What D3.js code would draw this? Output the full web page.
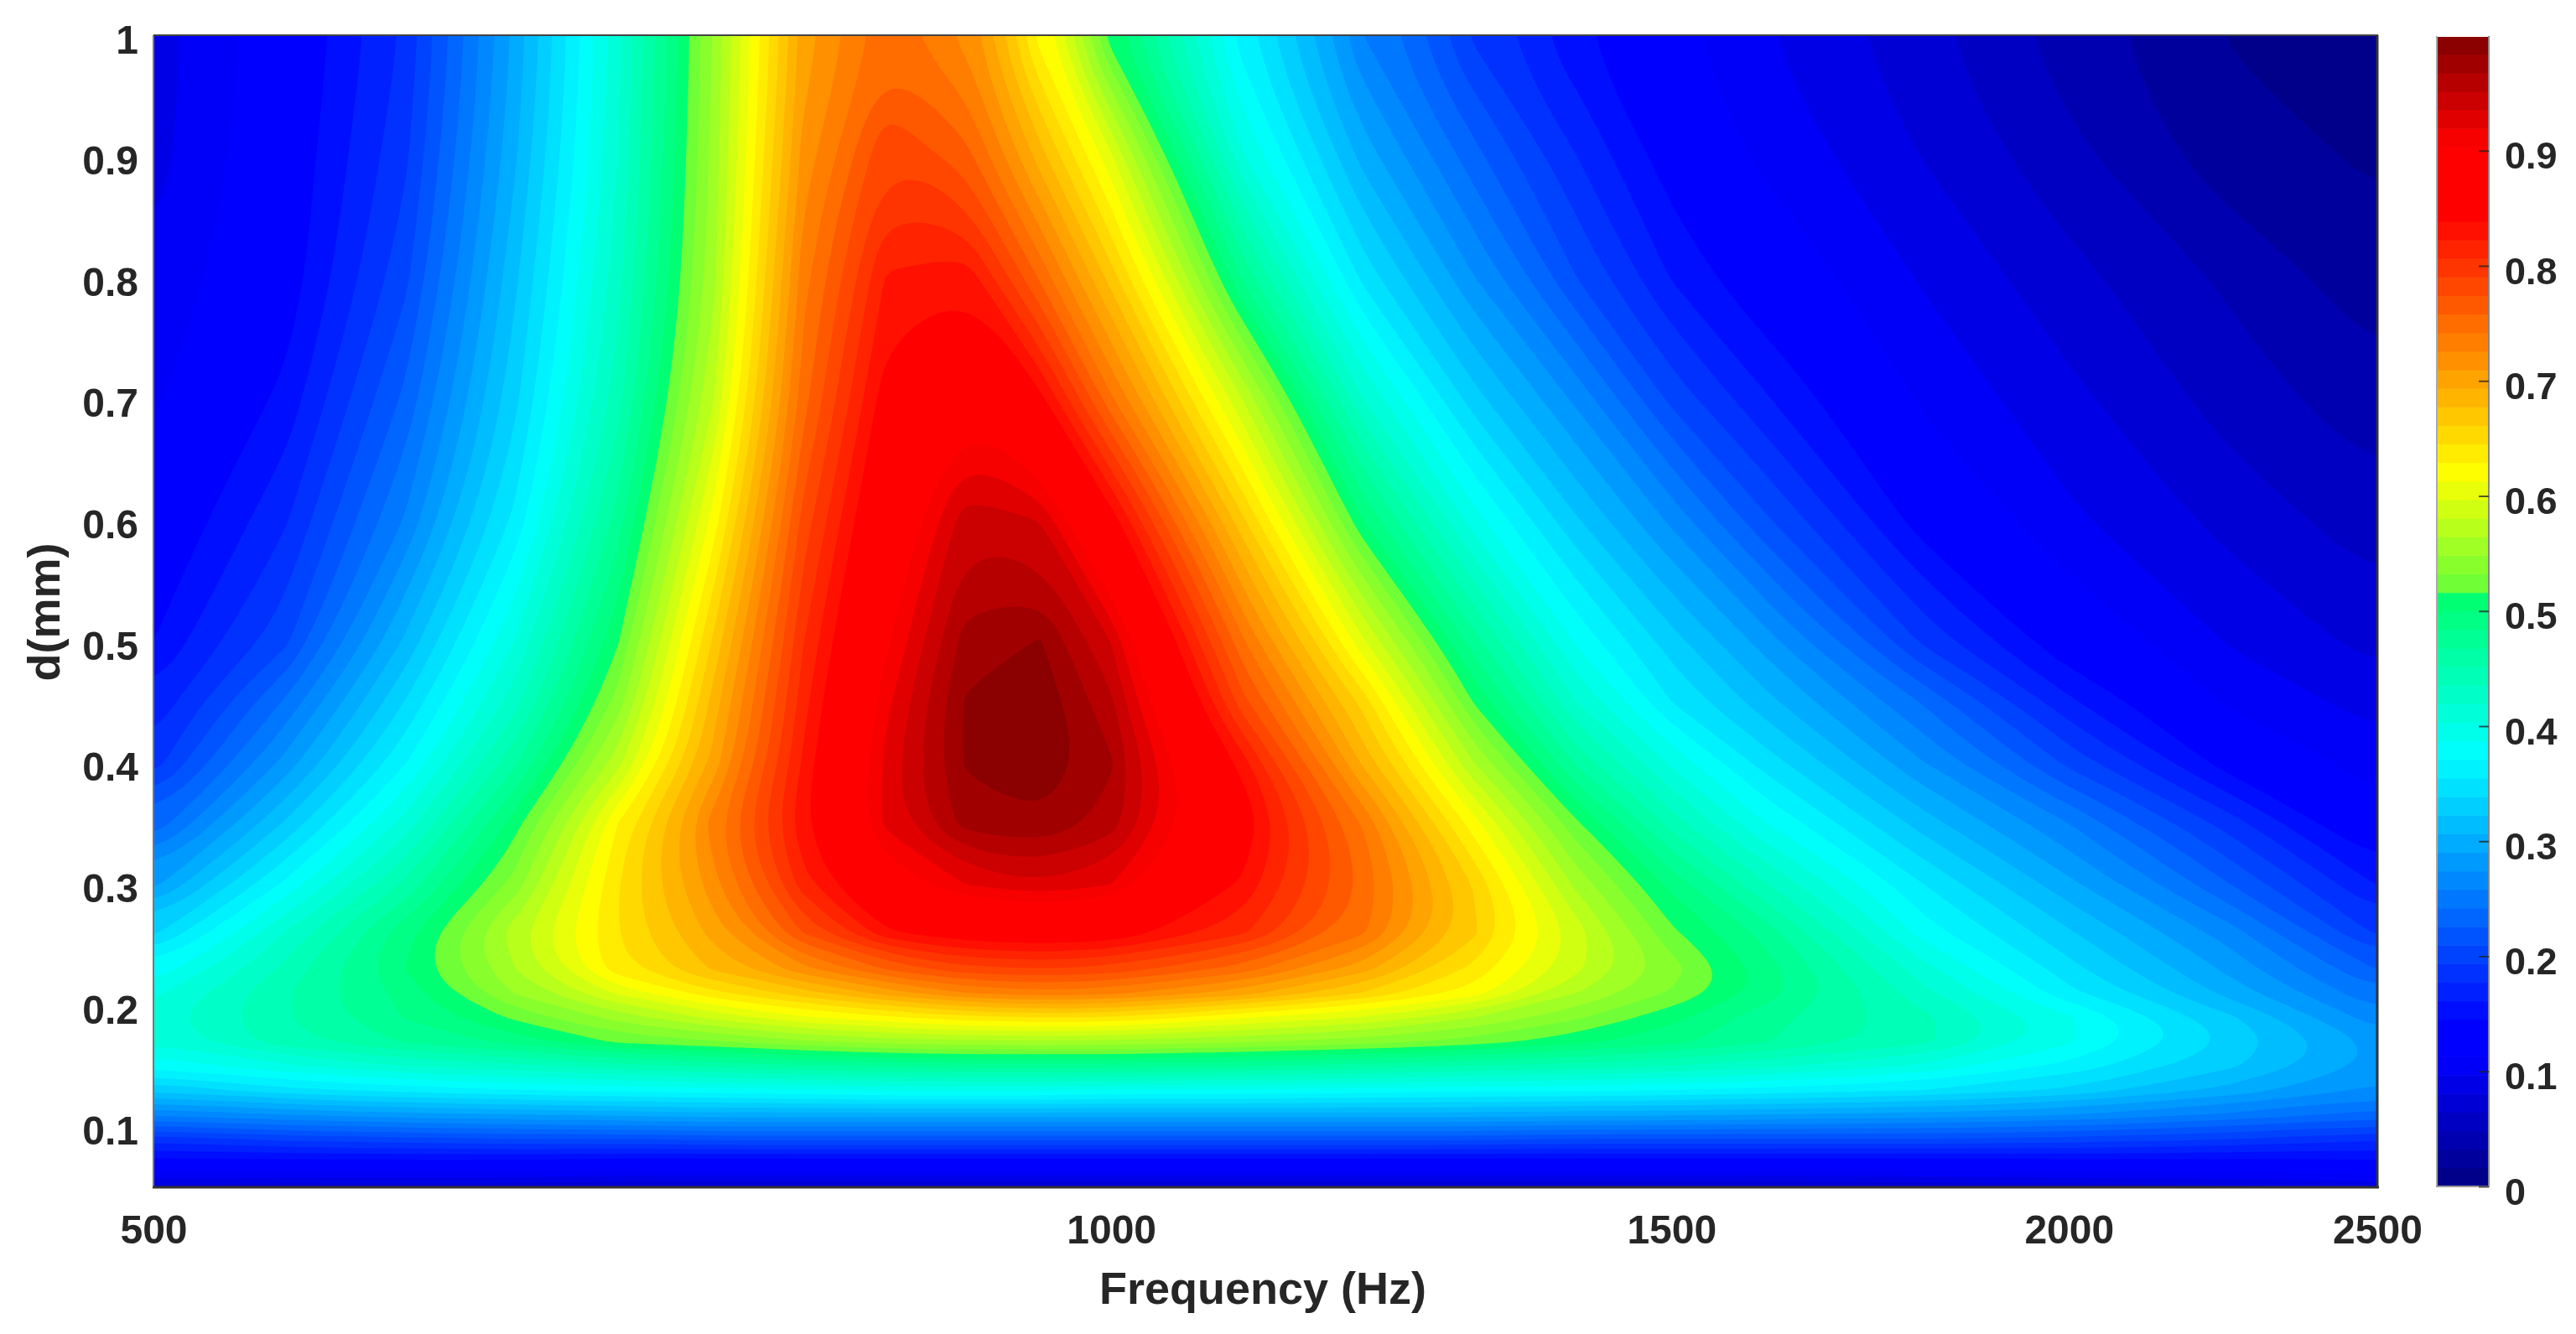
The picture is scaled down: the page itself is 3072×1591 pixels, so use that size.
<!DOCTYPE html>
<html><head><meta charset="utf-8">
<style>html,body{margin:0;padding:0;background:#fff}svg{display:block}text{font-family:"Liberation Sans",Arial,sans-serif;font-weight:700;fill:#262626;filter:blur(0.7px)}</style>
<script src="https://cdn.jsdelivr.net/npm/d3@7"></script>
</head><body><svg id="c" width="3072" height="1591"></svg>
<script>
// Axes
const frequencies = [500,550,600,650,700,750,800,850,900,950,1000,1100,1200,1300,1400,1500,1600,1800,2000,2250,2500];
const thicknesses = [0.05,0.07,0.09,0.11,0.13,0.15,0.17,0.19,0.21,0.23,0.26,0.3,0.35,0.4,0.45,0.5,0.6,0.7,0.8,0.9,1];
const xTicks = [500,1000,1500,2000,2500];
const yTicks = [0.1,0.2,0.3,0.4,0.5,0.6,0.7,0.8,0.9,1];
const cTicks = [0,0.1,0.2,0.3,0.4,0.5,0.6,0.7,0.8,0.9];
// Values, one row per thickness, thin to thick
const d005 = [.075,.07,.07,.07,.065,.065,.065,.065,.065,.065,.065,.065,.065,.065,.065,.065,.065,.07,.07,.075,.085];
const d007 = [.135,.135,.135,.135,.13,.13,.13,.13,.13,.13,.13,.13,.13,.13,.13,.13,.13,.13,.135,.135,.14];
const d009 = [.185,.20,.205,.21,.21,.215,.215,.215,.215,.215,.215,.215,.215,.215,.21,.21,.21,.21,.205,.195,.18];
const d011 = [.26,.275,.285,.29,.295,.30,.30,.30,.30,.30,.30,.30,.30,.30,.295,.295,.29,.285,.275,.255,.235];
const d013 = [.325,.35,.36,.37,.375,.38,.385,.39,.39,.39,.385,.385,.38,.375,.375,.37,.365,.355,.335,.30,.27];
const d015 = [.375,.40,.42,.43,.445,.455,.465,.47,.475,.475,.475,.47,.46,.45,.445,.435,.425,.40,.365,.325,.285];
const d017 = [.405,.445,.47,.49,.52,.53,.545,.555,.56,.56,.56,.55,.54,.525,.505,.49,.47,.44,.39,.335,.285];
const d019 = [.41,.45,.485,.52,.555,.585,.61,.625,.64,.645,.645,.615,.595,.565,.535,.505,.475,.44,.39,.325,.265];
const d021 = [.40,.45,.49,.55,.60,.64,.67,.70,.725,.735,.73,.70,.66,.62,.565,.53,.495,.425,.36,.30,.245];
const d023 = [.375,.44,.50,.565,.64,.68,.72,.76,.785,.79,.785,.75,.70,.64,.585,.54,.495,.41,.345,.285,.225];
const d026 = [.335,.42,.495,.575,.645,.70,.775,.835,.855,.86,.855,.81,.745,.665,.59,.52,.48,.38,.325,.265,.19];
const d030 = [.285,.375,.455,.54,.645,.72,.815,.885,.92,.935,.92,.835,.755,.66,.56,.495,.44,.355,.295,.225,.16];
const d035 = [.23,.325,.41,.51,.63,.735,.835,.925,.975,.982,.96,.855,.74,.62,.52,.445,.39,.315,.258,.185,.12];
const d040 = [.185,.28,.37,.465,.575,.70,.825,.925,.986,.998,.97,.83,.69,.565,.465,.40,.35,.275,.205,.135,.105];
const d045 = [.165,.245,.34,.43,.54,.685,.815,.915,.986,.997,.955,.78,.655,.515,.42,.355,.315,.24,.165,.11,.09];
const d050 = [.145,.205,.31,.405,.515,.665,.805,.90,.975,.985,.935,.745,.60,.475,.385,.33,.285,.19,.13,.095,.075];
const d060 = [.125,.175,.26,.36,.475,.62,.78,.875,.945,.935,.85,.665,.50,.395,.325,.27,.215,.135,.10,.075,.055];
const d070 = [.11,.15,.23,.335,.445,.58,.75,.85,.895,.845,.745,.58,.42,.33,.27,.205,.165,.11,.085,.057,.038];
const d080 = [.10,.133,.205,.32,.43,.56,.735,.825,.835,.755,.67,.48,.35,.275,.21,.16,.13,.095,.07,.045,.022];
const d090 = [.09,.13,.19,.305,.42,.555,.715,.79,.765,.685,.60,.405,.30,.232,.178,.135,.11,.08,.053,.022,.014];
const d100 = [.09,.125,.18,.295,.415,.55,.70,.75,.72,.62,.505,.36,.258,.19,.148,.118,.098,.069,.04,.015,.012];
const rows = [d005,d007,d009,d011,d013,d015,d017,d019,d021,d023,d026,d030,d035,d040,d045,d050,d060,d070,d080,d090,d100];

const bandCount = 62;
const box = {l:183,r:2835,t:42,b:1416};
const bar = {l:2907,r:2967,t:44,b:1414};
const svg = d3.select('#c');

const x = d3.scaleLog().domain([500,2500]).range([box.l,box.r]);
const y = d3.scaleLinear().domain([0.05,1]).range([box.b,box.t]);
const cy = d3.scaleLinear().domain([0,1]).range([1415,42.5]);

// Colour ramp of the picture (jet-like, with plateaus and a step just above 0.5)
const ramp = d3.scaleLinear()
  .domain([0,0.11,0.14,0.375,0.513,0.5131,0.62,0.845,0.905,1])
  .range(['#000082','#0000ff','#0000ff','#00ffff','#00ff6e','#5fff3c','#ffff00','#ff0000','#ff0000','#800000'])
  .interpolate(d3.interpolateRgb).clamp(true);

// grid with two repeated cells on each side, so that smoothing falls outside the clip
const pad = 2, n = frequencies.length, m = thicknesses.length;
const W = n+2*pad, H = m+2*pad;
const grid = new Float64Array(W*H);
for(let j=0;j<H;j++)for(let i=0;i<W;i++){
  const jj=Math.min(m-1,Math.max(0,j-pad)), ii=Math.min(n-1,Math.max(0,i-pad));
  grid[j*W+i]=rows[jj][ii];
}
const iToX = d3.scaleLinear().domain(d3.range(n)).range(frequencies.map(f=>x(f)));
const jToY = d3.scaleLinear().domain(d3.range(m)).range(thicknesses.map(t=>y(t)));
const thresholds = d3.range(0,bandCount).map(k=>k/bandCount);
const contours = d3.contours().size([W,H]).smooth(true).thresholds(thresholds)(grid);
const line = d3.line().curve(d3.curveBasisClosed);

const defs = svg.append('defs');
defs.append('clipPath').attr('id','clip').append('rect')
  .attr('x',box.l).attr('y',box.t).attr('width',box.r-box.l).attr('height',box.b-box.t);
const g = svg.append('g').attr('clip-path','url(#clip)');
g.append('rect').attr('x',box.l).attr('y',box.t).attr('width',box.r-box.l).attr('height',box.b-box.t).attr('fill',ramp(0.5/bandCount));
contours.forEach(c=>{
  if(!c.coordinates.length) return;
  let dStr='';
  c.coordinates.forEach(poly=>poly.forEach(ring=>{
    const pts = ring.slice(0,-1).map(p=>[iToX(p[0]-0.5-pad),jToY(p[1]-0.5-pad)]);
    dStr += line(pts);
  }));
  g.append('path').attr('d',dStr).attr('fill-rule','evenodd').attr('fill',ramp(c.value+0.5/bandCount));
});

// frame
const frame = svg.append('g').attr('fill','none');
frame.append('line').attr('x1',box.l).attr('x2',box.l).attr('y1',box.t).attr('y2',box.b).attr('stroke','#777').attr('stroke-width',2);
frame.append('line').attr('x1',box.l).attr('x2',box.r+1).attr('y1',box.t).attr('y2',box.t).attr('stroke','#444').attr('stroke-width',2);
frame.append('line').attr('x1',box.l-1).attr('x2',box.r+2).attr('y1',box.b).attr('y2',box.b).attr('stroke','#333').attr('stroke-width',3);
frame.append('line').attr('x1',box.r).attr('x2',box.r).attr('y1',box.t).attr('y2',box.b).attr('stroke','#333').attr('stroke-width',3);

// axes
const ax = svg.append('g').attr('transform',`translate(0,${box.b})`)
  .call(d3.axisBottom(x).tickValues(xTicks).tickFormat(d3.format('d')).tickSize(0).tickPadding(0));
ax.select('.domain').remove();
ax.selectAll('text').attr('y',67).attr('dy',null).attr('font-size',48).attr('text-anchor','middle');
const ay = svg.append('g').attr('transform',`translate(${box.l},0)`)
  .call(d3.axisLeft(y).tickValues(yTicks).tickFormat(d3.format('~g')).tickSize(0).tickPadding(0));
ay.select('.domain').remove();
ay.selectAll('text').attr('x',-18).attr('dy',21).attr('font-size',48).attr('text-anchor','end');

svg.append('text').attr('x',1506).attr('y',1555).attr('text-anchor','middle').attr('font-size',54).text('Frequency (Hz)');
svg.append('text').attr('transform','translate(71,730) rotate(-90)').attr('text-anchor','middle').attr('font-size',54).text('d(mm)');

// colour bar
const bg = svg.append('g');
thresholds.forEach(t=>{
  const y0=Math.min(bar.b,cy(t)), y1=Math.max(bar.t,cy(t+1/bandCount));
  bg.append('rect').attr('x',bar.l).attr('width',bar.r-bar.l).attr('y',y1).attr('height',y0-y1+0.6).attr('fill',ramp(t+0.5/bandCount));
});
bg.append('line').attr('x1',bar.l-1).attr('x2',bar.l-1).attr('y1',bar.t-1).attr('y2',bar.b+1).attr('stroke','#aaa').attr('stroke-width',2);
bg.append('line').attr('x1',bar.r+1).attr('x2',bar.r+1).attr('y1',bar.t-1).attr('y2',bar.b+1).attr('stroke','#888').attr('stroke-width',2);
bg.append('line').attr('x1',bar.l-2).attr('x2',bar.r+2).attr('y1',bar.b+1).attr('y2',bar.b+1).attr('stroke','#999').attr('stroke-width',2);
const ac = svg.append('g').attr('transform',`translate(${bar.r+1},0)`)
  .call(d3.axisRight(cy).tickValues(cTicks).tickFormat(d3.format('~g')).tickSize(-12).tickPadding(0));
ac.select('.domain').remove();
ac.selectAll('line').attr('stroke','#222').attr('stroke-opacity',.75).attr('stroke-width',2);
ac.selectAll('text').attr('x',19).attr('dy',21).attr('font-size',45).attr('text-anchor','start');
</script></body></html>
